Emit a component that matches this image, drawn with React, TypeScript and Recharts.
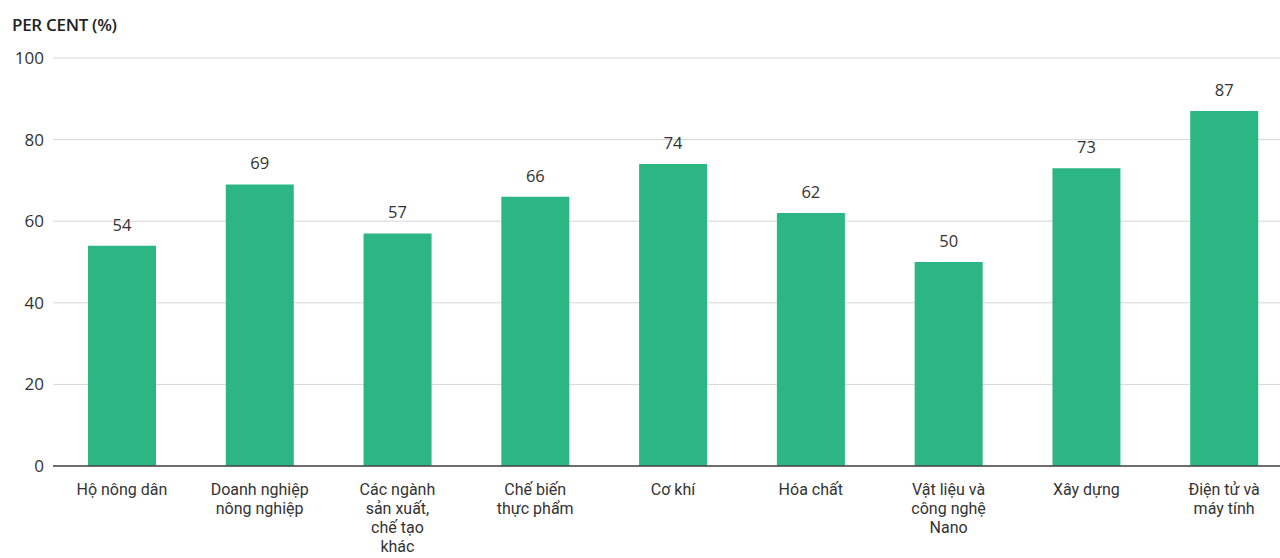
import React from "react";
import { Bar, BarChart, CartesianGrid, LabelList, XAxis, YAxis } from "recharts";

const categories = [
  "Hộ nông dân",
  "Doanh nghiệp\nnông nghiệp",
  "Các ngành\nsản xuất,\nchế tạo\nkhác",
  "Chế biến\nthực phẩm",
  "Cơ khí",
  "Hóa chất",
  "Vật liệu và\ncông nghệ\nNano",
  "Xây dựng",
  "Điện tử và\nmáy tính",
];

const percentValues = [54, 69, 57, 66, 74, 62, 50, 73, 87];

const yTicks = [0, 20, 40, 60, 80, 100];

const data = categories.map((name, i) => ({ name, value: percentValues[i] }));

const FONT = "'Open Sans', 'Noto Sans', sans-serif";
// tighter line metrics for the stacked category labels
const LABEL_FONT = "Roboto, 'Liberation Sans', sans-serif";
const INK = "#333";

// multi-line category labels, one tspan per line
function CategoryTick({ x, y, payload }: any) {
  const lines = String(payload.value).split("\n");
  return (
    <text x={x} y={y} textAnchor="middle" fill={INK} fontSize={16} fontFamily={LABEL_FONT}>
      {lines.map((line, i) => (
        <tspan key={i} x={x} dy={i === 0 ? 21 : 19}>
          {line}
        </tspan>
      ))}
    </text>
  );
}

export default function App() {
  return (
    <div style={{ position: "fixed", left: 0, top: 0, width: 1280, height: 558, overflow: "hidden", background: "#fff" }}>
      <div
        style={{
          position: "absolute",
          left: 12,
          top: 13,
          fontFamily: FONT,
          fontWeight: 600,
          fontSize: 17,
          color: "#222",
          letterSpacing: -0.3,
        }}
      >
        PER CENT (%)
      </div>
      <BarChart
        width={1300}
        height={558}
        data={data}
        margin={{ top: 58, right: 7, bottom: 0, left: 0 }}
        barSize={68}
      >
        <CartesianGrid vertical={false} stroke="#d6d6d6" />
        <XAxis
          dataKey="name"
          height={92}
          interval={0}
          tickLine={false}
          axisLine={{ stroke: "#444", strokeWidth: 1.5 }}
          tick={<CategoryTick />}
        />
        <YAxis
          width={53}
          domain={[0, 100]}
          ticks={yTicks}
          axisLine={false}
          tickLine={false}
          tickMargin={3}
          tick={{ fill: INK, fontSize: 17, fontFamily: FONT }}
        />
        <Bar dataKey="value" fill="#2bb683" isAnimationActive={false}>
          <LabelList dataKey="value" position="top" offset={15} fill={INK} fontSize={16.5} fontFamily={FONT} />
        </Bar>
      </BarChart>
    </div>
  );
}
